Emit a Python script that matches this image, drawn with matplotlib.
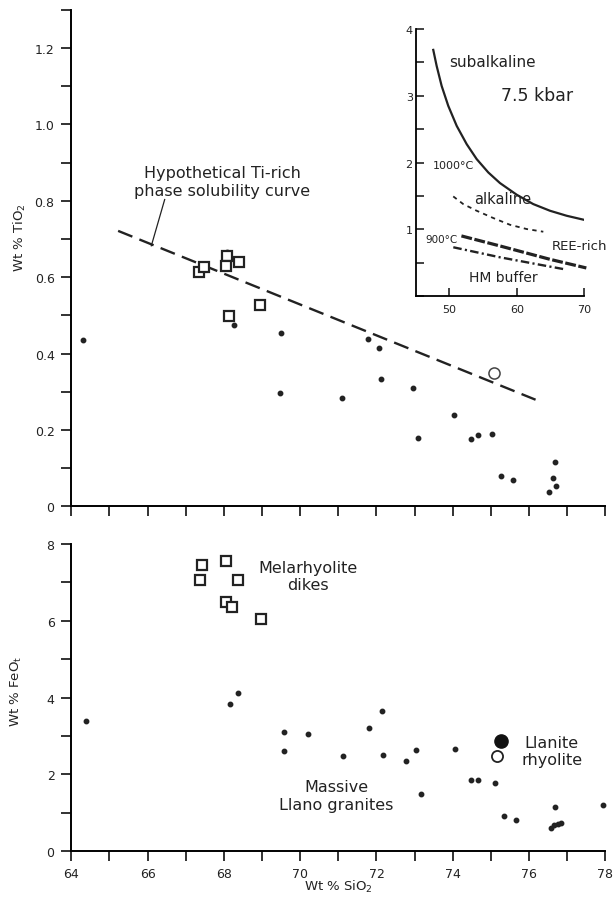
import matplotlib
matplotlib.use("Agg")
import matplotlib.pyplot as plt
from matplotlib.ticker import MultipleLocator, FuncFormatter

plt.rcParams["font.family"] = ["DejaVu Sans"]

# ---- data ----
# upper panel: TiO2 vs SiO2
ti_dot_x = [64.30, 68.08, 68.27, 69.51, 69.48, 71.11, 71.78, 72.07, 72.11, 72.96,
            73.08, 74.02, 74.48, 74.66, 75.03, 75.27, 75.59, 76.67, 76.62, 76.70, 76.52]
ti_dot_y = [0.436, 0.667, 0.475, 0.454, 0.297, 0.283, 0.438, 0.415, 0.332, 0.310,
            0.180, 0.238, 0.177, 0.187, 0.190, 0.080, 0.068, 0.116, 0.074, 0.052, 0.037]
ti_sq_x = [67.34, 67.47, 68.08, 68.06, 68.39, 68.13, 68.95]
ti_sq_y = [0.614, 0.627, 0.654, 0.628, 0.639, 0.497, 0.527]
ti_llanite_x = [75.07]
ti_llanite_y = [0.349]
curve_x = [65.23, 76.17]
curve_y = [0.721, 0.279]
leader_x = [66.45, 66.10]
leader_y = [0.803, 0.682]

# lower panel: FeOt vs SiO2
fe_dot_x = [64.38, 68.17, 68.38, 69.59, 69.59, 70.20, 71.13, 71.80, 72.15, 72.16,
            72.77, 73.03, 73.17, 74.06, 74.49, 74.67, 75.10, 75.33, 75.67, 76.68,
            76.58, 76.66, 76.75, 76.84, 77.94]
fe_dot_y = [3.40, 3.83, 4.12, 3.10, 2.62, 3.06, 2.47, 3.22, 3.66, 2.50,
            2.35, 2.64, 1.49, 2.66, 1.85, 1.85, 1.79, 0.92, 0.81, 1.15,
            0.60, 0.69, 0.72, 0.73, 1.20]
fe_sq_x = [67.44, 67.37, 68.06, 68.38, 68.06, 68.22, 68.97]
fe_sq_y = [7.46, 7.05, 7.56, 7.05, 6.49, 6.35, 6.05]
llanite_x = [75.27]
llanite_y = [2.86]
rhyolite_x = [75.16]
rhyolite_y = [2.47]

# inset: solubility curves
sub_x = [47.63, 48.13, 48.87, 49.85, 51.10, 52.58, 54.06, 55.78, 57.51, 59.99,
         62.44, 64.92, 67.39, 70.10]
sub_y = [3.687, 3.448, 3.148, 2.849, 2.549, 2.275, 2.051, 1.851, 1.692, 1.517,
         1.377, 1.277, 1.202, 1.138]
alk_x = [50.59, 52.07, 54.06, 56.52, 58.99, 61.47, 63.93]
alk_y = [1.492, 1.377, 1.277, 1.168, 1.067, 1.003, 0.963]
ree_x = [51.8, 57.5, 64.9, 70.3]
ree_y = [0.90, 0.75, 0.55, 0.42]
hm_x = [50.6, 57.5, 64.4, 67.1]
hm_y = [0.73, 0.58, 0.45, 0.40]

W, H = 614, 903
fig = plt.figure(figsize=(6.14, 9.03), dpi=100)
ink = "#222222"


def style_axes(ax):
    for s in ["top", "right"]:
        ax.spines[s].set_visible(False)
    for s in ["left", "bottom"]:
        ax.spines[s].set_linewidth(1.4)
    ax.tick_params(which="both", direction="out", length=7, width=1.3,
                   labelsize=9, colors=ink)


# ---- upper panel ----
ax1 = fig.add_axes([71.2 / W, 1 - 507.3 / H, 534.2 / W, 496.6 / H])
style_axes(ax1)
ax1.set_xlim(64, 78)
ax1.set_ylim(0, 1.3)
ax1.xaxis.set_major_locator(MultipleLocator(1))
ax1.tick_params(axis="x", labelbottom=False)
ax1.yaxis.set_major_locator(MultipleLocator(0.2))
ax1.yaxis.set_minor_locator(MultipleLocator(0.1))
ax1.yaxis.set_major_formatter(FuncFormatter(lambda v, p: "0" if abs(v) < 1e-9 else f"{v:.1f}"))
ax1.tick_params(axis="y", pad=5)

ax1.plot(curve_x, curve_y, color=ink, lw=1.7, dashes=(6.5, 3.2))
ax1.plot(leader_x, leader_y, color=ink, lw=0.9)
ax1.plot(ti_dot_x, ti_dot_y, "o", color=ink, ms=3.2, clip_on=False)
ax1.plot(ti_sq_x, ti_sq_y, "s", mfc="white", mec=ink, ms=7, mew=1.6)
ax1.plot(ti_llanite_x, ti_llanite_y, "o", mfc="white", mec="#444444", ms=8, mew=1.1)

ax1.text(67.96, 0.85, "Hypothetical Ti-rich\nphase solubility curve",
         ha="center", va="center", fontsize=11.5, color=ink)
ax1.text(-0.096, 0.543, "Wt % TiO$_2$", transform=ax1.transAxes, rotation=90,
         ha="center", va="center", fontsize=9.5, color=ink)

# ---- inset ----
axi = fig.add_axes([415.5 / W, 1 - 297 / H, 168.8 / W, 267 / H])
axi.patch.set_alpha(0)
for s in ["top", "right"]:
    axi.spines[s].set_visible(False)
for s in ["left", "bottom"]:
    axi.spines[s].set_linewidth(1.3)
axi.set_xlim(45, 70)
axi.set_ylim(0, 4)
axi.set_xticks([50, 60, 70])
axi.set_yticks([1, 2, 3, 4])
axi.yaxis.set_minor_locator(MultipleLocator(0.5))
axi.tick_params(which="both", direction="in", length=6, width=1.2,
                labelsize=8, colors=ink)
axi.tick_params(axis="y", pad=2)
axi.tick_params(axis="x", pad=6)

axi.plot(sub_x, sub_y, color=ink, lw=1.6)
axi.plot(alk_x, alk_y, color=ink, lw=1.3, dashes=(2.4, 2.4))
axi.plot(ree_x, ree_y, color=ink, lw=2.3, dashes=(3.4, 0.8), clip_on=False)
axi.plot(hm_x, hm_y, color=ink, lw=1.7, dashes=(3.6, 1.4, 0.9, 1.4))

axi.text(50.0, 3.52, "subalkaline", fontsize=11, va="center", ha="left", color=ink)
axi.text(62.95, 3.01, "7.5 kbar", fontsize=12.5, va="center", ha="center", color=ink)
axi.text(47.6, 1.97, "1000°C", fontsize=8, va="center", ha="left", color=ink)
axi.text(53.7, 1.46, "alkaline", fontsize=10.5, va="center", ha="left", color=ink)
axi.text(46.5, 0.85, "900°C", fontsize=7.5, va="center", ha="left", color=ink)
axi.text(65.2, 0.76, "REE-rich", fontsize=9.5, va="center", ha="left", color=ink,
         clip_on=False)
axi.text(58.0, 0.29, "HM buffer", fontsize=10, va="center", ha="center", color=ink)

# ---- lower panel ----
ax2 = fig.add_axes([71.2 / W, 1 - 852.3 / H, 534.2 / W, 307.3 / H])
style_axes(ax2)
ax2.set_xlim(64, 78)
ax2.set_ylim(0, 8)
ax2.xaxis.set_major_locator(MultipleLocator(2))
ax2.xaxis.set_minor_locator(MultipleLocator(1))
ax2.yaxis.set_major_locator(MultipleLocator(2))
ax2.yaxis.set_minor_locator(MultipleLocator(1))
ax2.tick_params(axis="x", pad=4)
ax2.tick_params(axis="y", pad=5)

ax2.plot(fe_dot_x, fe_dot_y, "o", color=ink, ms=3.2, clip_on=False)
ax2.plot(fe_sq_x, fe_sq_y, "s", mfc="white", mec=ink, ms=7, mew=1.6)
ax2.plot(llanite_x, llanite_y, "o", color="#111111", ms=9.5)
ax2.plot(rhyolite_x, rhyolite_y, "o", mfc="white", mec=ink, ms=8, mew=1.3)

ax2.text(70.21, 7.17, "Melarhyolite\ndikes", ha="center", va="center",
         fontsize=11.5, color=ink)
ax2.text(70.95, 1.45, "Massive\nLlano granites", ha="center", va="center",
         fontsize=11.5, color=ink)
ax2.text(76.59, 2.61, "Llanite\nrhyolite", ha="center", va="center",
         fontsize=11.5, color=ink)

ax2.text(-0.103, 0.525, "Wt % FeO$_\\mathrm{t}$", transform=ax2.transAxes, rotation=90,
         ha="center", va="center", fontsize=9.5, color=ink)
ax2.text(0.5, -0.112, "Wt % SiO$_2$", transform=ax2.transAxes,
         ha="center", va="center", fontsize=9.5, color=ink)

fig.savefig("out.png", dpi=100, facecolor="white")
